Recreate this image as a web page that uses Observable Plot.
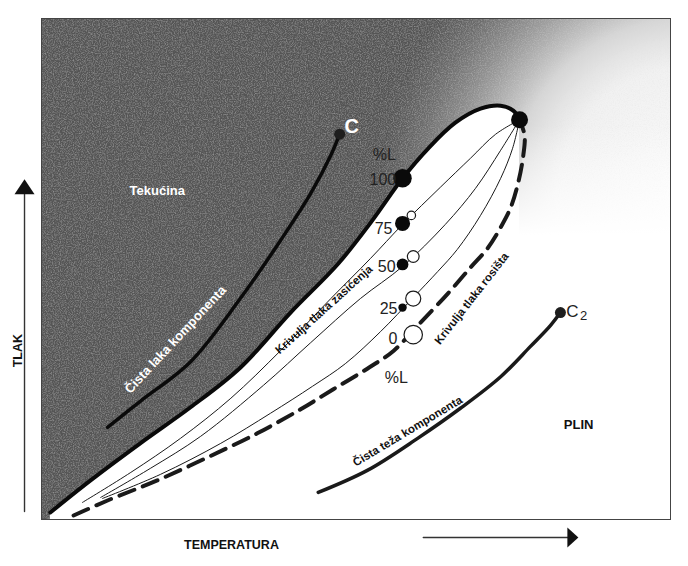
<!DOCTYPE html>
<html><head><meta charset="utf-8">
<script src="https://cdn.jsdelivr.net/npm/d3@7"></script>
<script src="https://cdn.jsdelivr.net/npm/@observablehq/plot@0.6"></script>
<style>body{margin:0;background:#fff;} svg{display:block;}</style>
</head><body><div id="chart"></div>
<script>
// ---- Data (T = temperature units 0..100, P = pressure units 0..100) ----
const bubbleT = [1.4, 7.8, 15.7, 23.7, 31.6, 39.6, 47.2, 52.6, 57.4, 61.5, 65.8, 69.8, 73.0, 75.0, 76.0];
const bubbleP = [1.4, 7.8, 15.2, 22.4, 30.3, 41.3, 51.1, 59.7, 68.1, 74.1, 79.2, 82.0, 82.6, 81.6, 79.8];

const dewT = [5.1, 10.5, 18.4, 26.4, 34.3, 41.2, 46.4, 51.8, 56.0, 59.8, 64.6, 68.2, 70.9, 73.0, 74.6, 75.8, 76.6, 76.8, 76.0];
const dewP = [0.8, 3.8, 7.8, 12.4, 17.2, 22.0, 26.0, 30.1, 33.7, 38.7, 45.1, 50.3, 54.1, 58.3, 62.3, 67.3, 72.7, 76.7, 79.8];

const q75T = [6.5, 14.2, 22.1, 30.1, 38.0, 46.0, 52.3, 57.4, 63.4, 68.2, 72.2, 76.0];
const q75P = [3.4, 9.4, 16.2, 24.2, 33.7, 44.1, 52.1, 58.9, 66.3, 72.1, 76.9, 79.8];
const q50T = [9.4, 17.3, 25.3, 35.3, 42.8, 50.7, 57.4, 64.2, 69.0, 73.0, 76.0];
const q50P = [4.4, 10.2, 16.6, 26.8, 35.3, 44.1, 50.5, 58.9, 66.1, 73.7, 79.8];
const q25T = [9.7, 18.9, 28.5, 36.4, 43.1, 48.3, 53.9, 59.1, 63.0, 66.1, 69.8, 73.0, 74.9, 76.0];
const q25P = [4.2, 9.0, 15.2, 21.2, 26.6, 31.1, 37.5, 44.3, 49.5, 53.9, 60.7, 68.1, 74.1, 79.8];

const lightT = [10.5, 15.7, 23.7, 31.6, 38.0, 42.8, 46.0, 47.4];
const lightP = [18.4, 23.6, 31.5, 44.1, 55.7, 65.1, 72.7, 76.9];
const heavyT = [44.0, 51.8, 59.8, 66.6, 73.0, 77.7, 80.9, 82.5];
const heavyP = [5.4, 9.8, 16.2, 22.2, 28.5, 34.5, 38.7, 41.3];

const criticalT = [76.0], criticalP = [79.8];
const pureT = [47.4, 82.5], pureP = [76.9, 41.3];

// quality (% liquid) markers
const liquidPct = [100, 75, 50, 25];
const liquidDotT = [57.4, 57.4, 57.4, 57.4];
const liquidDotP = [68.1, 59.1, 50.9, 42.3];
const gasPct = [25, 50, 75, 100];           // 100 - %L
const gasDotT = [58.8, 59.1, 59.1, 59.1];
const gasDotP = [60.7, 52.5, 44.1, 36.9];

// labels
const pctLabels = ["100", "75", "50", "25", "0"];
const pctLabelT = [56.4, 55.8, 56.3, 56.6, 56.6];
const pctLabelP = [67.7, 58.1, 50.5, 42.1, 36.1];
const unitLabels = ["%L", "%L"];
const unitLabelT = [54.5, 56.4];
const unitLabelP = [72.7, 28.3];

const curveLabels = ["Krivulja tlaka zasićenja", "Krivulja tlaka rosišta", "Čista teža komponenta"];
const curveLabelT = [44.9, 68.4, 58.2];
const curveLabelP = [41.9, 44.1, 17.6];
const curveLabelRot = [-42, -52, -31];

const whiteLabels = ["Čista laka komponenta"];
const whiteLabelT = [21.3], whiteLabelP = [35.9], whiteLabelRot = [-47];

const regionLabels = ["Tekućina", "PLIN"];
const regionLabelT = [18.4, 85.4], regionLabelP = [65.7, 18.8];
const regionColor = ["white", "#111"];

const axisTitles = ["TEMPERATURA", "TLAK"];
const axisTitleT = [30.2, -3.8], axisTitleP = [-5.0, 33.7], axisTitleRot = [0, -90];

const zip = (T, P, extra = {}) => T.map((t, i) => {
  const o = {T: t, P: P[i]};
  for (const k in extra) o[k] = extra[k][i];
  return o;
});

const bubble = zip(bubbleT, bubbleP);
const dew = zip(dewT, dewP);
const q75 = zip(q75T, q75P), q50 = zip(q50T, q50P), q25 = zip(q25T, q25P);
const light = zip(lightT, lightP), heavy = zip(heavyT, heavyP);
const liquidDots = zip(liquidDotT, liquidDotP, {v: liquidPct});
const gasDots = zip(gasDotT, gasDotP, {v: gasPct});

const font = "'Liberation Sans', Arial, Helvetica, sans-serif";
const curve = "catmull-rom";

const upTri = {draw(c) { c.moveTo(0, -10); c.lineTo(10, 5); c.lineTo(-10, 5); c.closePath(); }};
const rightTri = {draw(c) { c.moveTo(6, 0); c.lineTo(-5, -10); c.lineTo(-5, 10); c.closePath(); }};

const svg = Plot.plot({
  width: 688, height: 566,
  marginTop: 18, marginLeft: 41, marginRight: 18, marginBottom: 47,
  x: {domain: [0, 100], axis: null},
  y: {domain: [0, 100], axis: null},
  r: {type: "linear", domain: [25, 100], range: [4.2, 9.2]},
  style: {background: "white", overflow: "visible"},
  marks: [
    Plot.frame({fill: "url(#bgGrad)"}),
    Plot.areaY(bubble, {x: "T", y: "P", fill: "white", curve}),
    Plot.areaX(dew, {y: "P", x1: "T", x2: 100, fill: "url(#gasFade)", curve}),
    Plot.rect([dew[0]], {x1: "T", x2: 100, y1: 0, y2: "P", fill: "white"}),
    Plot.line(q75, {x: "T", y: "P", stroke: "#1a1a1a", strokeWidth: 1, curve}),
    Plot.line(q50, {x: "T", y: "P", stroke: "#1a1a1a", strokeWidth: 1, curve}),
    Plot.line(q25, {x: "T", y: "P", stroke: "#1a1a1a", strokeWidth: 1, curve}),
    Plot.line(dew, {x: "T", y: "P", stroke: "#1a1a1a", strokeWidth: 4, strokeDasharray: "16,9", curve}),
    Plot.line(bubble, {x: "T", y: "P", stroke: "#0a0a0a", strokeWidth: 4, curve}),
    Plot.line(light, {x: "T", y: "P", stroke: "#0a0a0a", strokeWidth: 3.5, strokeLinecap: "round", curve}),
    Plot.line(heavy, {x: "T", y: "P", stroke: "#1a1a1a", strokeWidth: 3.5, strokeLinecap: "round", curve}),
    Plot.dot(zip(pureT, pureP), {x: "T", y: "P", r: 5.5, fill: "#1e1e1e"}),
    Plot.dot(zip(criticalT, criticalP), {x: "T", y: "P", r: 8.5, fill: "#0a0a0a"}),
    Plot.dot(liquidDots, {x: "T", y: "P", r: "v", fill: "#0a0a0a"}),
    Plot.dot(gasDots, {x: "T", y: "P", r: "v", fill: "white", stroke: "#1a1a1a", strokeWidth: 1.2}),
    Plot.text(zip(pctLabelT, pctLabelP, {s: pctLabels}), {x: "T", y: "P", text: "s", textAnchor: "end", fontSize: 16, fontFamily: font, fill: "#222"}),
    Plot.text(zip(unitLabelT, unitLabelP, {s: unitLabels}), {x: "T", y: "P", text: "s", fontSize: 16, fontFamily: font, fill: "#222"}),
    Plot.text(zip(curveLabelT, curveLabelP, {s: curveLabels, r: curveLabelRot}), {x: "T", y: "P", text: "s", rotate: "r", fontSize: 11.5, fontWeight: "bold", fontFamily: font, fill: "#111"}),
    Plot.text(zip(whiteLabelT, whiteLabelP, {s: whiteLabels, r: whiteLabelRot}), {x: "T", y: "P", text: "s", rotate: "r", fontSize: 13, fontWeight: "bold", fontFamily: font, fill: "white"}),
    Plot.text(zip(regionLabelT, regionLabelP, {s: regionLabels, c: regionColor}), {x: "T", y: "P", text: "s", fill: "c", fontSize: 13, fontWeight: "bold", fontFamily: font}),
    Plot.text(zip([49.3], [78.4], {s: ["C"]}), {x: "T", y: "P", text: "s", fontSize: 20, fontWeight: "bold", fontFamily: font, fill: "white"}),
    Plot.text(zip([84.4], [41.5], {s: ["C"]}), {x: "T", y: "P", text: "s", fontSize: 17, fontFamily: font, fill: "#222"}),
    Plot.text(zip([86.2], [40.6], {s: ["2"]}), {x: "T", y: "P", text: "s", fontSize: 13, fontFamily: font, fill: "#222"}),
    Plot.text(zip(axisTitleT, axisTitleP, {s: axisTitles, r: axisTitleRot}), {x: "T", y: "P", text: "s", rotate: "r", fontSize: 12.5, fontWeight: "bold", fontFamily: font, fill: "#111"}),
    // axis direction arrows
    Plot.line(zip([-2.7, -2.7], [1.6, 65.0]), {x: "T", y: "P", stroke: "#333", strokeWidth: 1.4}),
    Plot.dot(zip([-2.7], [65.9]), {x: "T", y: "P", symbol: upTri, fill: "#111", stroke: "none"}),
    Plot.line(zip([60.7, 84.0], [-3.6, -3.6]), {x: "T", y: "P", stroke: "#333", strokeWidth: 1.4}),
    Plot.dot(zip([84.4], [-3.6]), {x: "T", y: "P", symbol: rightTri, fill: "#111", stroke: "none"}),
    Plot.frame({stroke: "#444", strokeWidth: 1})
  ]
});

const defs = d3.select(svg).insert("defs", ":first-child");
const bg = defs.append("radialGradient").attr("id", "bgGrad")
  .attr("gradientUnits", "userSpaceOnUse")
  .attr("cx", 690).attr("cy", 200).attr("r", 320);
[[0, "#fbfbfb"], [0.42, "#f1f1f1"], [0.5, "#e4e4e4"], [0.57, "#d6d6d6"], [0.61, "#c6c6c6"],
 [0.71, "#a0a0a0"], [0.76, "#8e8e8e"], [0.86, "#6e6e6e"], [0.96, "#585858"], [1, "#555"]]
  .forEach(([o, c]) => bg.append("stop").attr("offset", o).attr("stop-color", c));
const fade = defs.append("linearGradient").attr("id", "gasFade")
  .attr("gradientUnits", "userSpaceOnUse")
  .attr("x1", 0).attr("y1", 125).attr("x2", 0).attr("y2", 235);
fade.append("stop").attr("offset", 0).attr("stop-color", "white").attr("stop-opacity", 0);
fade.append("stop").attr("offset", 1).attr("stop-color", "white").attr("stop-opacity", 1);

// fine grain like the printed original
const grain = defs.append("filter").attr("id", "grain")
  .attr("x", 0).attr("y", 0).attr("width", "100%").attr("height", "100%");
grain.append("feTurbulence").attr("type", "fractalNoise").attr("baseFrequency", 0.85)
  .attr("numOctaves", 2).attr("seed", 4).attr("result", "n");
grain.append("feColorMatrix").attr("in", "n").attr("type", "matrix")
  .attr("values", "0 0 0 0 0.72  0 0 0 0 0.72  0 0 0 0 0.72  0.6 0 0 0 -0.25").attr("result", "g");
grain.append("feComposite").attr("in", "g").attr("in2", "SourceGraphic").attr("operator", "atop");
d3.select(svg).select('[aria-label="frame"]').attr("filter", "url(#grain)");

document.getElementById("chart").appendChild(svg);
</script>
</body></html>
